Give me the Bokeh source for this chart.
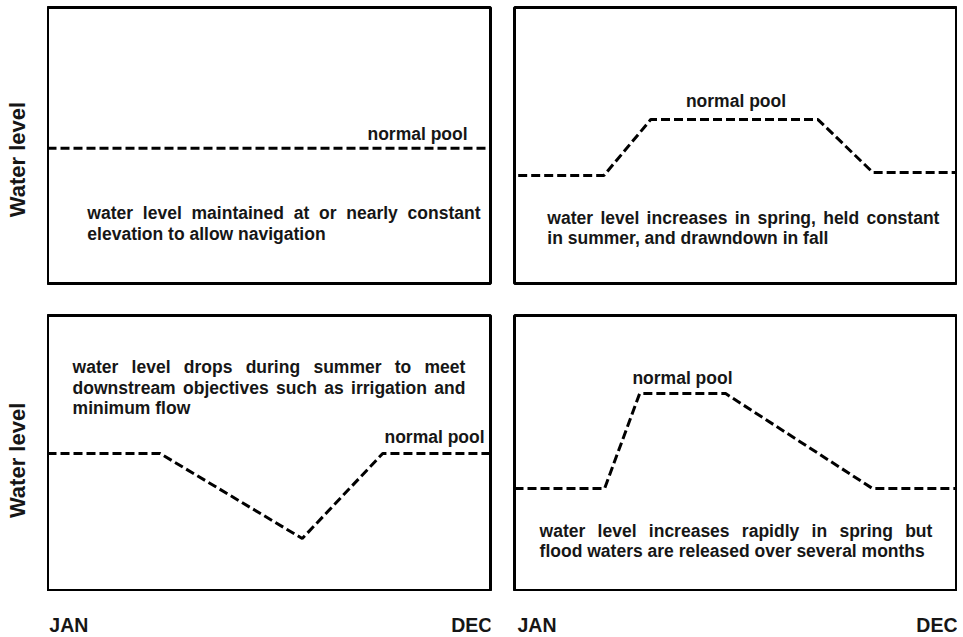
import math
from bokeh.plotting import figure
from bokeh.layouts import column, row
from bokeh.models import Range1d, Label
from bokeh.embed import file_html
from bokeh.resources import INLINE

# ---- data (month position 0=JAN .. 12=DEC, relative water level 0..10) ----
tl_month = [0, 12]
tl_level = [4.9, 4.9]

tr_month = [0.1, 2.42, 3.69, 8.22, 9.71, 12]
tr_level = [3.91, 3.91, 5.94, 5.94, 4.02, 4.02]

bl_month = [0, 3.05, 6.9, 9.08, 12]
bl_level = [5.0, 5.0, 1.92, 5.0, 5.0]

br_month = [0, 2.44, 3.39, 5.72, 9.7, 12]
br_level = [3.73, 3.73, 7.17, 7.17, 3.73, 3.73]

tl_text = ["water level maintained at or nearly constant",
           "elevation to allow navigation"]
tr_text = ["water level increases in spring, held constant",
           "in summer, and drawndown in fall"]
bl_text = ["water level drops during summer to meet",
           "downstream objectives such as irrigation and",
           "minimum flow"]
br_text = ["water level increases rapidly in spring but",
           "flood waters are released over several months"]

pool_label = "normal pool"
y_label = "Water level"
x_labels = ["JAN", "DEC"]

FONT = "Liberation Sans"
INK = "#161616"
FS = 17.5
FRAME_W = 443
FRAME_H = 276
PX_PER_X = FRAME_W / 12.0

# Arial/Helvetica Bold advance widths (per 1000 em)
W = dict(a=556, b=611, c=556, d=611, e=556, f=333, g=611, h=611, i=278, j=278,
         k=556, l=278, m=889, n=611, o=611, p=611, q=611, r=389, s=556, t=333,
         u=611, v=556, w=778, x=556, y=556, z=500)
W[","] = 278
W[" "] = 278


def text_w(s, size=FS):
    return sum(W.get(ch, 556) for ch in s) * size / 1000.0


def make_fig(width, height, bl, br, bt, bb, xr=(0, 12), yr=(0, 10), outline=True):
    p = figure(width=width, height=height, output_backend="svg",
               toolbar_location=None, x_axis_location=None, y_axis_location=None,
               x_range=Range1d(*xr), y_range=Range1d(*yr),
               min_border_left=bl, min_border_right=br,
               min_border_top=bt, min_border_bottom=bb)
    p.grid.visible = False
    if outline:
        p.outline_line_color = "black"
        p.outline_line_width = 3
    else:
        p.outline_line_color = None
    p.background_fill_color = "white"
    p.border_fill_color = "white"
    return p


def lbl(p, x, y, txt, size=FS, align="left", baseline="middle", angle=0,
        x_offset=0, y_offset=0):
    p.add_layout(Label(x=x, y=y, text=txt, text_font=FONT,
                       text_font_size=f"{size}px", text_font_style="bold",
                       text_color=INK, text_align=align, text_baseline=baseline,
                       angle=angle, x_offset=x_offset, y_offset=y_offset))


def paragraph(p, lines, x0, x1, y0, spacing=20.8):
    width_px = (x1 - x0) * PX_PER_X
    for i, line in enumerate(lines):
        yo = -i * spacing
        words = line.split(" ")
        if i == len(lines) - 1 or len(words) < 2:
            lbl(p, x0, y0, line, y_offset=yo)
            continue
        ws = [text_w(w) for w in words]
        gap = (width_px - sum(ws)) / (len(words) - 1)
        cur = 0.0
        for w, wd in zip(words, ws):
            lbl(p, x0, y0, w, x_offset=cur, y_offset=yo)
            cur += wd + gap


def dashed(p, xs, ys):
    p.line(xs, ys, line_color="black", line_width=3, line_dash="9 4")


# ---- row A (top panels) : frame y 7..283 ----
ya1 = make_fig(47, 300, 0, 0, 7, 17, xr=(0, 47), outline=False)
lbl(ya1, 17, 4.49, y_label, size=22, align="center", angle=math.pi / 2)

p1 = make_fig(455, 300, 0, 12, 7, 17)
dashed(p1, tl_month, tl_level)
lbl(p1, 11.38, 5.43, pool_label, align="right")
paragraph(p1, tl_text, 1.08, 11.73, 2.54)

p2 = make_fig(455, 300, 12, 0, 7, 17)
dashed(p2, tr_month, tr_level)
lbl(p2, 6.0, 6.6, pool_label, align="center")
paragraph(p2, tr_text, 0.89, 11.51, 2.39)

# ---- row B (bottom panels) : frame y 315..591 ----
ya2 = make_fig(47, 291, 0, 0, 15, 0, xr=(0, 47), outline=False)
lbl(ya2, 17, 4.75, y_label, size=22, align="center", angle=math.pi / 2)

p3 = make_fig(455, 291, 0, 12, 15, 0)
dashed(p3, bl_month, bl_level)
lbl(p3, 11.84, 5.58, pool_label, align="right")
paragraph(p3, bl_text, 0.68, 11.32, 8.12, spacing=20.2)

p4 = make_fig(455, 291, 12, 0, 15, 0)
dashed(p4, br_month, br_level)
lbl(p4, 4.55, 7.75, pool_label, align="center")
paragraph(p4, br_text, 0.68, 11.32, 2.21)

# ---- row C (month labels) ----
sp = make_fig(47, 44, 0, 0, 0, 0, xr=(0, 47), yr=(0, 44), outline=False)
m3 = make_fig(455, 44, 0, 12, 0, 0, yr=(0, 44), outline=False)
lbl(m3, 0.05, 11, x_labels[0], size=19.5, align="left")
lbl(m3, 12.05, 11, x_labels[1], size=19.5, align="right")
m4 = make_fig(455, 44, 12, 0, 0, 0, yr=(0, 44), outline=False)
lbl(m4, 0.08, 11, x_labels[0], size=19.5, align="left")
lbl(m4, 12.0, 11, x_labels[1], size=19.5, align="right")

layout = column(row(ya1, p1, p2), row(ya2, p3, p4), row(sp, m3, m4))
open("out.html", "w").write(file_html(layout, INLINE))
